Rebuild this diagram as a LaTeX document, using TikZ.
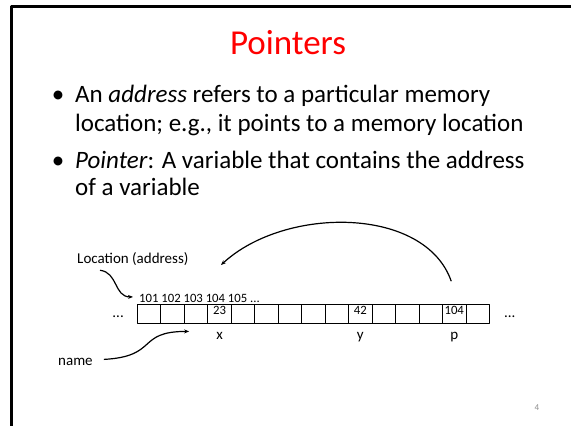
\documentclass[tikz,border=0pt]{standalone}
\usepackage{fontspec}
\setmainfont{Carlito}
\usetikzlibrary{
  arrows.meta,
  positioning,
  calc,
}
\definecolor{titlered}{HTML}{FF0000}
\definecolor{ink}{HTML}{000000}
\definecolor{pagegray}{HTML}{8C8C8C}
\tikzset{
  slide/.style={
    x=1pt, y=1pt,
    >={Stealth[length=5pt, width=4pt]},
    line join=round,
  },
  cell/.style={
    draw=ink,
    line width=0.8pt,
    minimum width=23.47pt,
    minimum height=19pt,
    inner sep=0pt,
    anchor=south west,
  },
  bodytext/.style={
    font=\fontsize{25}{29}\selectfont,
    text=ink,
    inner sep=0pt,
  },
  lab/.style={
    font=\fontsize{15}{18}\selectfont,
    text=ink,
    inner sep=0pt,
  },
  num/.style={
    font=\fontsize{12.7}{15}\selectfont,
    text=ink,
    inner sep=0pt,
  },
  pointer/.style={
    ->,
    line width=1.2pt,
    draw=ink,
  },
}

\begin{document}
\begin{tikzpicture}[slide]
  \useasboundingbox (0,0) rectangle (571,426);

  % slide frame (left and top edge only)
  \draw[ink, line width=2.2pt] (571,419.5) -- (11.5,419.5) -- (11.5,0);

  \node[font=\fontsize{35}{40}\selectfont, text=titlered, anchor=base, inner sep=0pt]
    (title) at (288,371) {Pointers};

  % bullets
  \node[bodytext, anchor=base] (bulA) at (58,323) {•};
  \node[bodytext, anchor=base west] (txtA1) at (75,323)
    {An \textit{address} refers to a particular memory};
  \node[bodytext, anchor=base west] (txtA2) at (75,294)
    {location; e.g., it points to a memory location};
  \node[bodytext, anchor=base] (bulB) at (58,257) {•};
  \node[bodytext, anchor=base west] (txtB1) at (75,257)
    {\textit{Pointer}: A variable that contains the address};
  \node[bodytext, anchor=base west] (txtB2) at (75,230)
    {of a variable};

  % memory row
  \foreach \i in {1,...,15} {
    \node[cell] (c\i) at ({137+(\i-1)*23.47},102) {};
  }
  \foreach \i/\v in {4/23,10/42,14/104} {
    \node[num, anchor=base] at ($(c\i.north)+(0,-10.5)$) {\v};
  }
  \node[lab, anchor=base east] (dotsL) at ($(c1.west)+(-13,-3.5)$) {...};
  \node[lab, anchor=base west] (dotsR) at ($(c15.east)+(14,-3.5)$) {...};

  \node[num, anchor=base west] (addr) at (139,123) {101 102 103 104 105 ...};

  \node[lab, anchor=base] (nmx) at ($(c4.south)+(0,-16)$) {x};
  \node[lab, anchor=base] (nmy) at ($(c10.south)+(0,-16)$) {y};
  \node[lab, anchor=base] (nmp) at ($(c14.south)+(0,-16)$) {p};

  \node[lab, anchor=base west] (loc) at (77,162) {Location (address)};
  \node[lab, anchor=base west] (name) at (58,60) {name};

  \draw[pointer] ($(loc.south west)+(23,-4)$) .. controls +(18,-2) and +(-19,0)
    .. ($(addr.west)+(-6,2)$);
  \draw[pointer] ($(name.east)+(11,3)$) .. controls +(55,3) and +(-53,0)
    .. ($(nmx.west)+(-27,5)$);

  \coordinate (ptrend) at (221,161);
  \draw[pointer] ($(c14.north)+(-3,23)$) .. controls (425,220) and (285,220) .. (ptrend);

  \node[font=\fontsize{9}{10}\selectfont, text=pagegray, anchor=base, inner sep=0pt]
    (page) at (537,15) {4};
\end{tikzpicture}
\end{document}
